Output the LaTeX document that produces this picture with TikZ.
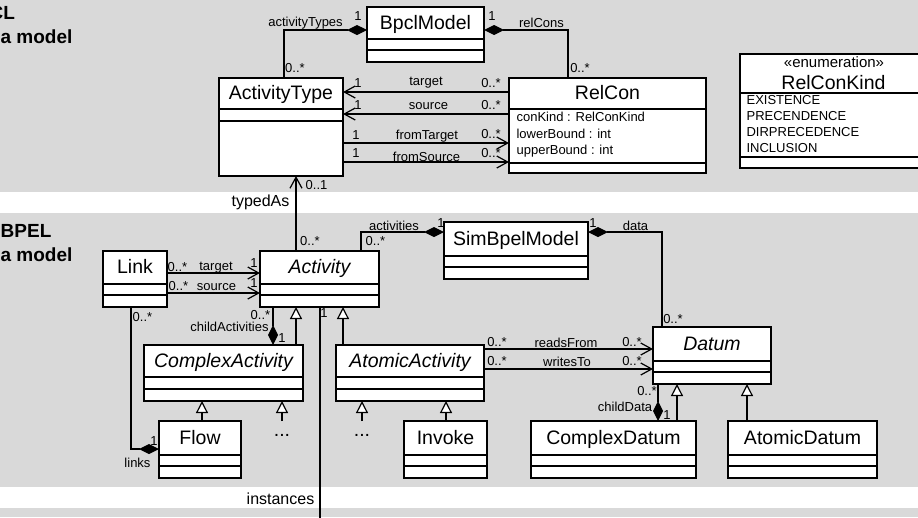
\documentclass[tikz,border=0pt]{standalone}
\usepackage{fontspec}
\setmainfont{Liberation Sans}
\usepackage{tikz}
\usetikzlibrary{arrows.meta}
\definecolor{bandgray}{HTML}{D9D9D9}
\newcommand{\umlclass}[9][]{%
\node[classbox,minimum width={#5-#3},minimum height={#6-#4},anchor=north west] (#2) at (#3,#4) {};
\draw (#3,#7) -- (#5,#7) (#3,#8) -- (#5,#8);
\node[classname,#1] (#2-name) at ({(#3+#5)/2},{(#4+#7)/2+1}) {#9};
}

\begin{document}
\begin{tikzpicture}[x=1pt,y=-1pt,line width=1.2pt,
classbox/.style={draw,fill=white,inner sep=0pt,outer sep=0pt},
classname/.style={font=\fontsize{19.5}{22}\selectfont,inner sep=0pt,text height=14.6pt,text depth=4.1pt},
dots/.style={font=\fontsize{19.5}{22}\selectfont,inner sep=0pt},
stereo/.style={font=\fontsize{15}{17}\selectfont,inner sep=0pt},
attr/.style={font=\fontsize{13}{16.5}\selectfont,inner sep=0pt,align=left},
lbl/.style={font=\fontsize{13}{15}\selectfont,inner sep=0pt},
role/.style={font=\fontsize{16}{18}\selectfont,inner sep=0pt},
section/.style={font=\fontsize{19}{22}\selectfont\bfseries,inner sep=0pt},
comp/.style={{Diamond[length=20pt,width=10pt]}-},
nav/.style={-{Straight Barb[length=11pt,width=12pt]}},
gen/.style={-{Triangle[open,fill=white,length=12pt,width=12pt]}}]
\path[use as bounding box] (0,0) rectangle (918,517);
\clip (0,0) rectangle (918,517);
\fill[white] (0,0) rectangle (918,517);
\fill[bandgray] (0,0) rectangle (918,192);
\fill[bandgray] (0,213) rectangle (918,487);
\fill[bandgray] (0,508) rectangle (918,517);

\node[section,anchor=base east] (bpcl-title) at (15.5,19) {CL};
\node[section,anchor=base west] (bpcl-sub) at (0,43) {a model};
\node[section,anchor=base east] (bpel-title) at (52,237) {BPEL};
\node[section,anchor=base west] (bpel-sub) at (0,261) {a model};

\umlclass{bpclmodel}{367}{7}{484}{62}{39}{50}{BpclModel}
\umlclass{activitytype}{219}{78}{343}{176}{109}{121}{ActivityType}
\umlclass{relcon}{509}{78}{706}{173}{109}{163}{RelCon}
\node[attr,anchor=west] (relcon-attr) at (516,135) {conKind : RelConKind\\lowerBound : int\\upperBound : int};
\node[classbox,minimum width=188,minimum height=114,anchor=north west] (relconkind) at (740,54) {};
\draw (740,93) -- (928,93) (740,157) -- (928,157);
\node[stereo] (relconkind-stereo) at (834,62) {«enumeration»};
\node[classname] (relconkind-name) at (833.5,84) {RelConKind};
\node[attr,anchor=west,font=\fontsize{13}{16}\selectfont] (relconkind-lits) at (746,124) {EXISTENCE\\PRECENDENCE\\DIRPRECEDENCE\\INCLUSION};

\umlclass{link}{103}{251}{167}{307}{284}{295}{Link}
\umlclass[font=\fontsize{19.5}{22}\selectfont\itshape]{activity}{260}{251}{379}{307}{284}{295}{Activity}
\umlclass{simbpelmodel}{444}{222}{588}{279}{256}{267}{SimBpelModel}
\umlclass[font=\fontsize{19.5}{22}\selectfont\itshape]{datum}{653}{327}{771}{384}{361}{372}{Datum}
\umlclass[font=\fontsize{19.5}{22}\selectfont\itshape]{complexactivity}{144}{345}{303}{401}{377}{389}{ComplexActivity}
\umlclass[font=\fontsize{19.5}{22}\selectfont\itshape]{atomicactivity}{336}{345}{484}{401}{377}{389}{AtomicActivity}
\umlclass{flow}{159}{421}{241}{478}{455}{466}{Flow}
\umlclass{invoke}{404}{421}{487}{478}{455}{466}{Invoke}
\umlclass{complexdatum}{531}{421}{696}{478}{455}{466}{ComplexDatum}
\umlclass{atomicdatum}{728}{421}{877}{478}{455}{466}{AtomicDatum}
\node[dots] (more-complex) at (282,435) {...};
\node[dots] (more-atomic) at (362,435) {...};
\coordinate (more-complex-top) at (282,421);
\coordinate (more-atomic-top) at (362,421);
\coordinate (instances-end) at (320,520);

\draw[comp] (bpclmodel.west |- 0,30) -| (activitytype.north -| 284,0)
node[lbl] at (305.5,23) {activityTypes} node[lbl] at (358,16) {1} node[lbl] at (295,68) {0..*};
\draw[comp] (bpclmodel.east |- 0,30) -| (relcon.north -| 568,0)
node[lbl] at (492,16) {1} node[lbl] at (541.5,23) {relCons} node[lbl] at (580,68) {0..*};
\draw[nav] (relcon.west |- 0,92) -- (activitytype.east |- 0,92)
node[lbl] at (358,83) {1} node[lbl] at (426,83) {target} node[lbl] at (491,83) {0..*};
\draw[nav] (relcon.west |- 0,114) -- (activitytype.east |- 0,114)
node[lbl] at (358,105) {1} node[lbl] at (428.5,106) {source} node[lbl] at (491,105) {0..*};
\draw[nav] (activitytype.east |- 0,143) -- (relcon.west |- 0,143)
node[lbl] at (356,135) {1} node[lbl] at (427,136) {fromTarget} node[lbl] at (491,134) {0..*};
\draw[nav] (activitytype.east |- 0,162) -- (relcon.west |- 0,162)
node[lbl] at (356,153) {1} node[lbl] at (426.5,157) {fromSource} node[lbl] at (491,153) {0..*};
\draw[nav] (activity.north -| 296,0) -- (activitytype.south -| 296,0)
node[lbl] at (316.5,185) {0..1} node[role] at (260.5,202) {typedAs} node[lbl] at (310,241.5) {0..*};

\draw[nav] (link.east |- 0,273) -- (activity.west |- 0,273)
node[lbl] at (177.5,267) {0..*} node[lbl] at (216,268) {target} node[lbl] at (254,263) {1};
\draw[nav] (link.east |- 0,293) -- (activity.west |- 0,293)
node[lbl] at (178.5,286) {0..*} node[lbl] at (216.5,287) {source} node[lbl] at (254,283) {1};
\draw[comp] (simbpelmodel.west |- 0,232) -| (activity.north -| 361,0)
node[lbl] at (394,226) {activities} node[lbl] at (441,223) {1} node[lbl] at (375.5,241) {0..*};
\draw[comp] (simbpelmodel.east |- 0,232) -| (datum.north -| 662,0)
node[lbl] at (593,223) {1} node[lbl] at (635.5,226) {data} node[lbl] at (673,319.5) {0..*};
\draw[comp] (complexactivity.north -| 273,0) -- (activity.south -| 273,0)
node[lbl] at (260.5,315) {0..*} node[lbl] at (229.5,327) {childActivities} node[lbl] at (282,338) {1};
\draw[gen] (complexactivity.north -| 296,0) -- (activity.south -| 296,0);
\draw[gen] (atomicactivity.north -| 343,0) -- (activity.south -| 343,0);
\draw (activity.south -| 320,0) -- (instances-end)
node[lbl] at (324,313) {1} node[role] at (280.5,499) {instances};
\draw[comp] (flow.west |- 0,449) -| (link.south -| 131,0)
node[lbl] at (142.5,317) {0..*} node[lbl] at (154,441) {1} node[lbl] at (137.5,463) {links};
\draw[gen] (flow.north -| 202,0) -- (complexactivity.south -| 202,0);
\draw[gen] (more-complex-top) -- (complexactivity.south -| 282,0);
\draw[gen] (more-atomic-top) -- (atomicactivity.south -| 362,0);
\draw[gen] (invoke.north -| 446,0) -- (atomicactivity.south -| 446,0);
\draw[nav] (atomicactivity.east |- 0,349) -- (datum.west |- 0,349)
node[lbl] at (497,342) {0..*} node[lbl] at (566,343) {readsFrom} node[lbl] at (632,342) {0..*};
\draw[nav] (atomicactivity.east |- 0,369) -- (datum.west |- 0,369)
node[lbl] at (497,361) {0..*} node[lbl] at (567,362) {writesTo} node[lbl] at (632,361) {0..*};
\draw[comp] (complexdatum.north -| 658,0) -- (datum.south -| 658,0)
node[lbl] at (647,391) {0..*} node[lbl] at (625,407) {childData} node[lbl] at (667,415) {1};
\draw[gen] (complexdatum.north -| 677,0) -- (datum.south -| 677,0);
\draw[gen] (atomicdatum.north -| 747,0) -- (datum.south -| 747,0);
\end{tikzpicture}
\end{document}
